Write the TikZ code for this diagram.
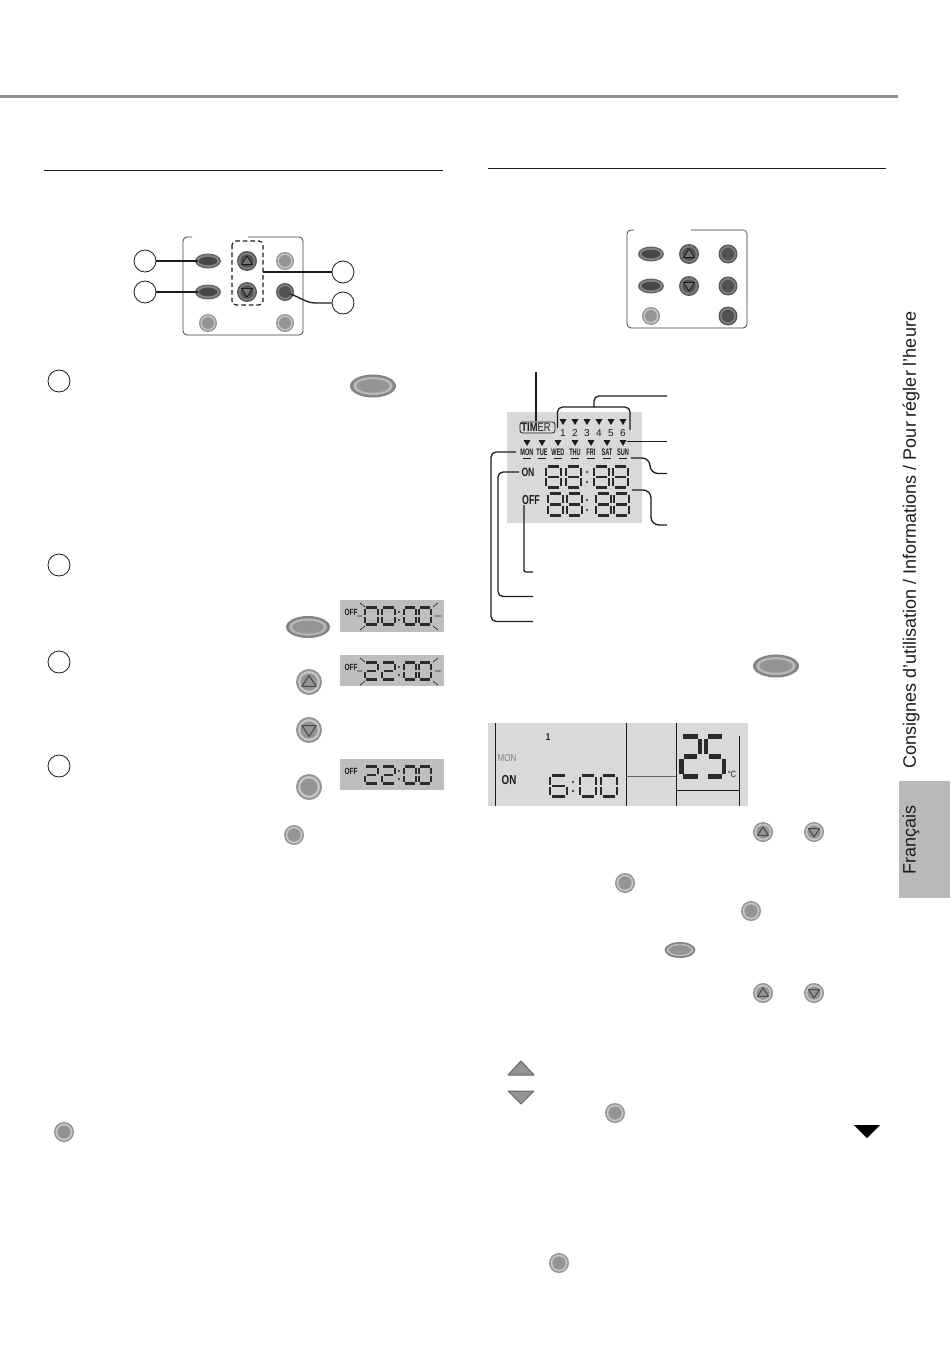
\documentclass[tikz,border=0pt]{standalone}
\usepackage{fontspec}
\usepackage{graphicx}
\setmainfont{Liberation Sans}
\definecolor{lcdA}{HTML}{D9D9D9}
\definecolor{lcdB}{HTML}{BEBEBE}
\definecolor{rulegray}{HTML}{8E8E8E}
\definecolor{tabgray}{HTML}{B9B9B9}
\definecolor{inkk}{HTML}{1C1C1C}
\definecolor{segk}{HTML}{2A2A2A}
\newlength{\seglw}
\setlength{\seglw}{2.4pt}
\tikzset{
  leader/.style={draw=inkk,line width=1.3pt,rounded corners=5pt},
  numcirc/.style={circle,draw=inkk,line width=.8pt,minimum size=22pt,inner sep=0pt,fill=white},
  seg/.style={line width=\seglw,draw=segk,line cap=butt},
  tri/.style={fill=inkk},
  daytxt/.style={font=\fontsize{10}{12}\selectfont\bfseries,inner sep=0pt,text=inkk},
  numtxt/.style={font=\fontsize{10}{12}\selectfont,inner sep=0pt,text=inkk}
}
\newcommand{\sega}{\draw[seg] (.16,.03)--(.84,.03);}
\newcommand{\segb}{\draw[seg] (.94,.09)--(.94,.45);}
\newcommand{\segc}{\draw[seg] (.94,.55)--(.94,.91);}
\newcommand{\segd}{\draw[seg] (.16,.97)--(.84,.97);}
\newcommand{\sege}{\draw[seg] (.06,.55)--(.06,.91);}
\newcommand{\segf}{\draw[seg] (.06,.09)--(.06,.45);}
\newcommand{\segg}{\draw[seg] (.18,.5)--(.82,.5);}
\newcommand{\dgt}[5]{\begin{scope}[shift={(#1,#2)},x=#3pt,y=-#4pt]
  \edef\dgtlist{#5}\foreach \s in \dgtlist {\csname seg\s\endcsname}\end{scope}}
\newcommand{\dzero}{a,b,c,d,e,f}
\newcommand{\dtwo}{a,b,g,e,d}
\newcommand{\dfive}{a,f,g,c,d}
\newcommand{\dsix}{a,f,g,e,c,d}
\newcommand{\deight}{a,b,c,d,e,f,g}
\newcommand{\rbtn}[6]{\fill[#4] (#1,#2) circle (#3);\fill[#5] (#1,#2) circle (#3*.84);\fill[#6] (#1,#2) circle (#3*.66);}
\newcommand{\obtn}[7]{\fill[#5] (#1,#2) ellipse (#3 and #4);\fill[#6] (#1,#2) ellipse (#3*.86 and #4*.78);\fill[#7] (#1,#2) ellipse (#3*.72 and #4*.58);}
\newcommand{\lbtn}[3]{\rbtn{#1}{#2}{#3}{black!42}{black!22}{black!42}}
\newcommand{\dbtn}[3]{\rbtn{#1}{#2}{#3}{black!65}{black!50}{black!68}}
\newcommand{\upbtn}[3]{\lbtn{#1}{#2}{#3}\draw[black!70,line width=1.1pt,fill=black!42,line join=round] (#1-#3*.55,#2+#3*.34)--(#1,#2-#3*.5)--(#1+#3*.55,#2+#3*.34)--cycle;}
\newcommand{\dnbtn}[3]{\lbtn{#1}{#2}{#3}\draw[black!70,line width=1.1pt,fill=black!42,line join=round] (#1-#3*.55,#2-#3*.34)--(#1,#2+#3*.5)--(#1+#3*.55,#2-#3*.34)--cycle;}
\newcommand{\dupbtn}[2]{\dbtn{#1}{#2}{10}\draw[black!90,line width=.8pt,fill=black!55] (#1-5.5,#2+3.5)--(#1,#2-5)--(#1+5.5,#2+3.5)--cycle;}
\newcommand{\ddnbtn}[2]{\dbtn{#1}{#2}{10}\draw[black!90,line width=.8pt,fill=black!55] (#1-5.5,#2-3.5)--(#1,#2+5)--(#1+5.5,#2-3.5)--cycle;}
\newcommand{\loval}[4]{\obtn{#1}{#2}{#3}{#4}{black!48}{black!28}{black!42}}
\newcommand{\doval}[2]{\obtn{#1}{#2}{13}{7.5}{black!60}{black!45}{black!72}}
\newcommand{\flash}[1]{\begin{scope}[shift={(0,#1)}]
  \draw[segk,line width=.7pt] (360,3)--(365,7) (433,7)--(438,3) (357,16)--(362,16) (435,16)--(441,16) (360,30)--(365,26) (433,26)--(438,30);
  \end{scope}}
\begin{document}
\begin{tikzpicture}[x=1pt,y=-1pt]
\useasboundingbox (0,0) rectangle (950,1348);
\fill[white] (0,0) rectangle (950,1348);
% rules
\draw[rulegray,line width=3pt] (0,97)--(898,97);
\draw[inkk,line width=.9pt] (44,170)--(443,170);
\draw[inkk,line width=.9pt] (488,168)--(886,168);
% side tab
\fill[tabgray] (899,781) rectangle (950,898);
\node[rotate=90,inner sep=0pt,font=\fontsize{18}{20}\selectfont,text=inkk] (tabfr) at (911,840) {Français};
\node[rotate=90,inner sep=0pt,font=\fontsize{18}{20}\selectfont,text=inkk] (tabtitle) at (911,540) {Consignes d’utilisation / Informations / Pour régler l’heure};
% remote panel 1
\draw[black!75,line width=.8pt,rounded corners=4pt] (192,237)--(183,237)--(183,335)--(303,335)--(303,237)--(248,237);
\doval{208}{261}\doval{208}{292}
\dupbtn{247}{261}\ddnbtn{247}{292}
\lbtn{285}{261}{9}
\dbtn{285}{292}{9}
\lbtn{208}{323}{9}
\lbtn{285}{323}{9}
\draw[inkk,line width=1.2pt,dashed,dash pattern=on 4.5pt off 3pt,rounded corners=4pt] (232,241) rectangle (263,305);
\node[numcirc] (c1) at (145,261) {};
\node[numcirc] (c2) at (145,292) {};
\node[numcirc] (c3) at (343,272) {};
\node[numcirc] (c4) at (343,303) {};
\coordinate (b1) at (198,261);
\coordinate (b2) at (198,292);
\coordinate (b3) at (263,272);
\coordinate (b4) at (290,294);
\draw[inkk,line width=1.3pt] (c1)--(b1);
\draw[inkk,line width=1.3pt] (c2)--(b2);
\draw[inkk,line width=1.3pt] (b3)--(c3);
\draw[inkk,line width=1.3pt] (b4) .. controls (302,298) and (306,303) .. (316,303) -- (c4);
% step circles
\node[numcirc] (s1) at (59,381) {};
\node[numcirc] (s2) at (59,565) {};
\node[numcirc] (s3) at (59,662) {};
\node[numcirc] (s4) at (59,766) {};
% left buttons
\loval{373}{386}{23}{11.5}
\loval{308}{627}{22}{11}
\upbtn{309}{682}{13}
\dnbtn{309}{730}{13}
\lbtn{309}{787}{13}
\lbtn{294}{835}{10}
\lbtn{64}{1132}{10}
% LCD strips left
\fill[lcdB] (340,600) rectangle (444,632);
\fill[lcdB] (340,655) rectangle (444,686);
\fill[lcdB] (340,759) rectangle (444,790);
\dgt{364}{607}{15}{18}{\dzero}
\dgt{381}{607}{15}{18}{\dzero}
\dgt{364}{662}{15}{18}{\dtwo}
\dgt{381}{662}{15}{18}{\dtwo}
\dgt{364}{766}{15}{18}{\dtwo}
\dgt{381}{766}{15}{18}{\dtwo}
\foreach \yy in {607,662,766}{
  \dgt{403}{\yy}{14}{18}{\dzero}
  \dgt{418}{\yy}{14}{18}{\dzero}
  \fill[segk] (399,\yy+5) circle (1.1) (399,\yy+13) circle (1.1);
}
\node[inner sep=0pt,text=inkk,font=\fontsize{9}{10}\selectfont\bfseries] (off1) at (351,612) {\scalebox{.72}[1]{OFF}};
\node[inner sep=0pt,text=inkk,font=\fontsize{9}{10}\selectfont\bfseries] (off2) at (351,667) {\scalebox{.72}[1]{OFF}};
\node[inner sep=0pt,text=inkk,font=\fontsize{9}{10}\selectfont\bfseries] (off3) at (351,771) {\scalebox{.72}[1]{OFF}};
\flash{600}
\flash{655}
% remote panel 2
\draw[black!75,line width=.8pt,rounded corners=4pt] (634,230)--(627,230)--(627,328)--(747,328)--(747,300);
\draw[black!45,line width=1.2pt,rounded corners=4pt] (747,300)--(747,230)--(691,230);
\doval{651}{254}\doval{651}{286}
\dupbtn{689}{254}\ddnbtn{689}{286}
\dbtn{728}{254}{9.5}\dbtn{728}{286}{9.5}\dbtn{728}{316}{9.5}
\lbtn{651}{316}{9}
% timer panel
\fill[lcdA] (507,412) rectangle (642,523);
\draw[inkk,line width=.8pt,rounded corners=2.5pt] (520,422) rectangle (555,433);
\node[inner sep=0pt,text=inkk,font=\fontsize{12}{14}\selectfont] (timer) at (536,427.5) {\scalebox{.78}[1]{\textbf{TIM}ER}};
\coordinate (tl0) at (536,372);
\coordinate (tl1) at (536,421);
\draw[inkk,line width=1.2pt] (tl0)--(tl1);
% top triangles and numbers
\foreach \xx/\nn in {563/1,575/2,587/3,599/4,611/5,623/6}{
  \fill[tri] (\xx-3.5,419)--(\xx+3.5,419)--(\xx,425)--cycle;
  \node[numtxt] (n\nn) at (\xx,433.5) {\nn};
}
% day triangles, labels, dashes
\foreach \xx/\dd/\tx in {527/mon/MON,542/tue/TUE,558/wed/WED,575/thu/THU,591/fri/FRI,607/sat/SAT,623/sun/SUN}{
  \fill[tri] (\xx-3.5,440)--(\xx+3.5,440)--(\xx,446)--cycle;
  \node[daytxt] (\dd) at (\xx,452) {\scalebox{.56}[.95]{\tx}};
  \draw[inkk,line width=1pt] (\xx-4,458)--(\xx+4,458);
}
% big digits
\setlength{\seglw}{2.8pt}
\dgt{545}{466}{17}{22}{\deight}
\dgt{565}{466}{17}{22}{\deight}
\dgt{593}{466}{17}{22}{\deight}
\dgt{612}{466}{17}{22}{\deight}
\dgt{547}{493}{17}{23}{\deight}
\dgt{566}{493}{17}{23}{\deight}
\dgt{595}{493}{17}{23}{\deight}
\dgt{613}{493}{17}{23}{\deight}
\setlength{\seglw}{2.4pt}
\fill[segk] (587,472) circle (1.2) (587,482) circle (1.2) (587,500) circle (1.2) (587,510) circle (1.2);
\node[inner sep=0pt,text=inkk,font=\fontsize{12}{14}\selectfont\bfseries] (onl) at (528,472) {\scalebox{.72}[1]{ON}};
\node[inner sep=0pt,text=inkk,font=\fontsize{13}{15}\selectfont\bfseries] (offl) at (531,500) {\scalebox{.68}[1]{OFF}};
% timer leaders
\coordinate (br1) at (557.5,428);
\coordinate (br2) at (630,430);
\coordinate (brm) at (594,407);
\coordinate (e1) at (667,396);
\coordinate (e2) at (667,441.5);
\coordinate (e3) at (667,473.5);
\coordinate (e4) at (667,525);
\coordinate (e5) at (533,572);
\coordinate (e6) at (533,596.5);
\coordinate (e7) at (533,621.5);
\draw[leader] (br1)--(557.5,407)--(630,407)--(br2);
\draw[leader] (brm)--(594,396)--(e1);
\draw[inkk,line width=1.2pt] (627,441.5)--(e2);
\draw[leader,rounded corners=8pt] (631,458)--(650,458)--(650,473.5)--(e3);
\draw[leader,rounded corners=8pt] (632,490)--(651,490)--(651,525)--(e4);
\draw[leader,rounded corners=2pt] (524,505)--(524,572)--(e5);
\draw[leader] (519,472)--(498,472)--(498,596.5)--(e6);
\draw[leader] (516,452)--(491,452)--(491,621.5)--(e7);
% right oval
\loval{776}{666}{23}{11.5}
% big LCD
\fill[lcdA] (488,723) rectangle (748,806);
\draw[inkk,line width=.8pt] (495,723)--(495,806) (626,723)--(626,806) (676,723)--(676,806) (739,736)--(739,806) (676,790)--(739,790);
\draw[black!60,line width=.8pt] (626,776)--(676,776);
\node[inner sep=0pt,text=inkk,font=\fontsize{10}{12}\selectfont\bfseries] (lone) at (548,737) {\scalebox{.8}[1]{1}};
\node[inner sep=0pt,text=black!50,font=\fontsize{10}{12}\selectfont] (lmon) at (507,758) {\scalebox{.8}[1]{MON}};
\node[inner sep=0pt,text=inkk,font=\fontsize{13}{15}\selectfont\bfseries] (lon) at (509,780) {\scalebox{.75}[1]{ON}};
\setlength{\seglw}{2.6pt}
\dgt{549}{775}{19}{22}{\dsix}
\dgt{579}{775}{18}{22}{\dzero}
\dgt{600}{775}{18}{22}{\dzero}
\setlength{\seglw}{4.5pt}
\dgt{680}{735}{21}{43}{\dtwo}
\dgt{705}{735}{20}{43}{\dfive}
\setlength{\seglw}{2.4pt}
\fill[segk] (573,782) circle (1.2) (573,791) circle (1.2);
\node[inner sep=0pt,text=inkk,font=\fontsize{9}{10}\selectfont] (ldeg) at (732,774) {\scalebox{.8}[1]{°C}};
% right buttons
\upbtn{763}{832}{10}\dnbtn{814}{832}{10}
\lbtn{625}{883}{10}
\lbtn{751}{911}{10}
\loval{680}{950}{15.5}{8}
\upbtn{763}{993}{10}\dnbtn{814}{993}{10}
\lbtn{615}{1113}{10}
\lbtn{559}{1263}{10}
% arrows
\draw[black!60,fill=black!42,line width=1pt,line join=round] (508,1075)--(521,1061)--(534,1075)--cycle;
\draw[black!60,fill=black!42,line width=1pt,line join=round] (508,1091)--(534,1091)--(521,1104)--cycle;
\fill[black] (854,1125)--(880,1125)--(867,1138)--cycle;
\end{tikzpicture}
\end{document}
